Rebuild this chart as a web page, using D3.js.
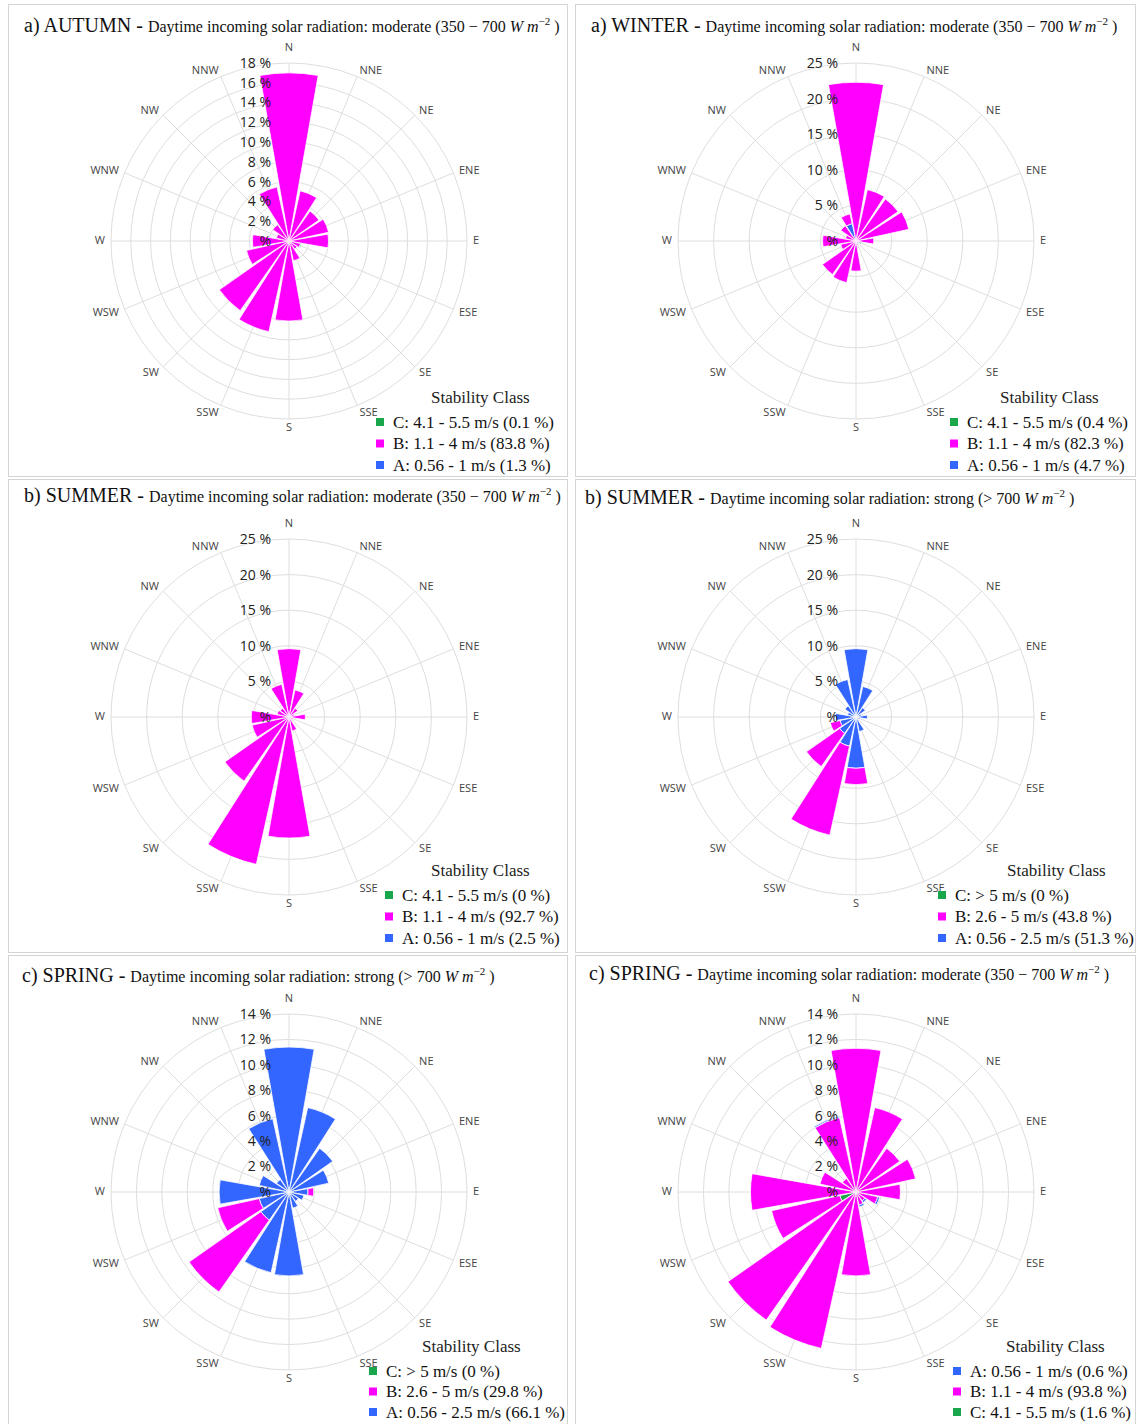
<!DOCTYPE html>
<html>
<head>
<meta charset="utf-8">
<script src="https://cdn.jsdelivr.net/npm/d3@7"></script>
<style>
  body { margin: 0; background: #fff; }
</style>
</head>
<body>
<script>
const width = 1137;
const height = 1424;

// 16方位
const directions = ["N", "NNE", "NE", "ENE", "E", "ESE", "SE", "SSE",
                    "S", "SSW", "SW", "WSW", "W", "WNW", "NW", "NNW"];

// a) AUTUMN - moderate
const autumnA = [0.3, 0.1, 0.1, 0.1, 0.1, 0, 0, 0.05, 0.1, 0.1, 0.1, 0.05, 0.05, 0.05, 0.05, 0.1];
const autumnB = [16.7, 5.1, 3.6, 4.0, 3.9, 1.2, 1.0, 2.0, 8.0, 9.3, 8.5, 4.35, 3.65, 1.25, 1.95, 5.5];
const autumnC = [0, 0, 0, 0, 0, 0.1, 0, 0, 0, 0, 0, 0, 0, 0, 0, 0];
const autumnTicks = [0, 2, 4, 6, 8, 10, 12, 14, 16, 18];

// a) WINTER - moderate
const winterA = [0.3, 0.1, 0.1, 0.1, 0, 0, 0, 0, 0.1, 0.1, 0.1, 0.1, 0.2, 0.2, 0.4, 2.5];
const winterB = [22.0, 7.3, 7.1, 7.5, 2.5, 0.6, 0.3, 0.6, 4.15, 5.9, 5.65, 2.1, 4.5, 1.3, 2.2, 1.4];
const winterC = [0, 0, 0, 0, 0, 0.2, 0.2, 0, 0, 0, 0, 0, 0, 0, 0, 0];
const winterTicks = [0, 5, 10, 15, 20, 25];

// b) SUMMER - moderate
const summerModA = [0.2, 0.15, 0.1, 0.1, 0.15, 0.1, 0.1, 0.15, 0.2, 0.25, 0.2, 0.2, 0.2, 0.15, 0.1, 0.15];
const summerModB = [9.4, 3.75, 1.4, 0.7, 2.15, 0.5, 0.4, 1.85, 16.8, 20.95, 10.8, 5.1, 5.1, 1.55, 1.4, 4.55];
const summerModC = [0, 0, 0, 0, 0, 0, 0, 0, 0, 0, 0, 0, 0, 0, 0, 0];
const summerModTicks = [0, 5, 10, 15, 20, 25];

// b) SUMMER - strong
const summerStrA = [9.6, 4.4, 1.6, 0.8, 1.6, 0.6, 0.5, 2.1, 7.2, 4.2, 2.8, 2.3, 2.9, 1.2, 1.9, 5.4];
const summerStrB = [0, 0, 0, 0, 0, 0, 0, 0, 2.3, 12.8, 5.7, 1.4, 0, 0, 0, 0];
const summerStrC = [0, 0, 0, 0, 0, 0, 0, 0, 0, 0, 0, 0, 0, 0, 0, 0];
const summerStrTicks = [0, 5, 10, 15, 20, 25];

// c) SPRING - strong
const springStrA = [11.4, 6.8, 4.2, 3.2, 1.5, 1.2, 0.9, 1.3, 6.6, 6.5, 2.7, 2.4, 5.5, 2.4, 1.2, 5.9];
const springStrB = [0, 0, 0, 0, 0.45, 0, 0, 0, 0, 0, 6.9, 3.35, 0, 0, 0, 0];
const springStrC = [0, 0, 0, 0, 0, 0, 0, 0, 0, 0, 0, 0, 0, 0, 0, 0];
const springStrTicks = [0, 2, 4, 6, 8, 10, 12, 14];

// c) SPRING - moderate (C が内側)
const springModC = [0, 0, 0, 0, 0, 0, 0, 0, 0, 0, 0.15, 1.3, 0.15, 0, 0, 0];
const springModB = [11.3, 6.8, 4.2, 4.8, 3.5, 1.75, 0.85, 1.05, 6.6, 12.6, 12.15, 5.5, 8.15, 2.9, 1.3, 6.0];
const springModA = [0, 0, 0, 0, 0, 0.15, 0.15, 0.15, 0, 0, 0, 0, 0, 0, 0, 0.1];
const springModTicks = [0, 2, 4, 6, 8, 10, 12, 14];

// 凡例
const legendModerate = ["C: 4.1 - 5.5 m/s", "B: 1.1 - 4 m/s", "A: 0.56 - 1 m/s"];
const legendStrong = ["C: > 5 m/s", "B: 2.6 - 5 m/s", "A: 0.56 - 2.5 m/s"];

const colors = { A: "#3366ff", B: "#ff00ff", C: "#1aa64a" };
const R = 178;

// パネル設定 (stack: 内側から外側へ, legend: 上から下へ)
const panels = [
  { cx: 289, cy: 241, box: [8, 4, 567, 476], season: "a) AUTUMN", sub: "moderate",
    ticks: autumnTicks,
    stack: [["A", autumnA], ["B", autumnB], ["C", autumnC]],
    legend: [["C", legendModerate[0] + " (0.1 %)"], ["B", legendModerate[1] + " (83.8 %)"], ["A", legendModerate[2] + " (1.3 %)"]],
    tx: 24, ty: 32, lx: 376, ly: 398, ltx: 55, step: 21.5 },
  { cx: 856, cy: 241, box: [575, 4, 1135, 476], season: "a) WINTER", sub: "moderate",
    ticks: winterTicks,
    stack: [["A", winterA], ["B", winterB], ["C", winterC]],
    legend: [["C", legendModerate[0] + " (0.4 %)"], ["B", legendModerate[1] + " (82.3 %)"], ["A", legendModerate[2] + " (4.7 %)"]],
    tx: 591, ty: 32, lx: 950, ly: 398, ltx: 50, step: 21.5 },
  { cx: 289, cy: 717, box: [8, 479, 567, 952], season: "b) SUMMER", sub: "moderate",
    ticks: summerModTicks,
    stack: [["A", summerModA], ["B", summerModB], ["C", summerModC]],
    legend: [["C", legendModerate[0] + " (0 %)"], ["B", legendModerate[1] + " (92.7 %)"], ["A", legendModerate[2] + " (2.5 %)"]],
    tx: 24, ty: 502, lx: 385, ly: 871, ltx: 46, step: 21.5 },
  { cx: 856, cy: 717, box: [575, 479, 1135, 952], season: "b) SUMMER", sub: "strong",
    ticks: summerStrTicks,
    stack: [["A", summerStrA], ["B", summerStrB], ["C", summerStrC]],
    legend: [["C", legendStrong[0] + " (0 %)"], ["B", legendStrong[1] + " (43.8 %)"], ["A", legendStrong[2] + " (51.3 %)"]],
    tx: 585, ty: 504, lx: 938, ly: 871, ltx: 69, step: 21.5 },
  { cx: 289, cy: 1192, box: [8, 955, 567, 1430], season: "c) SPRING", sub: "strong",
    ticks: springStrTicks,
    stack: [["A", springStrA], ["B", springStrB], ["C", springStrC]],
    legend: [["C", legendStrong[0] + " (0 %)"], ["B", legendStrong[1] + " (29.8 %)"], ["A", legendStrong[2] + " (66.1 %)"]],
    tx: 22, ty: 982, lx: 369, ly: 1347, ltx: 53, step: 20.5 },
  { cx: 856, cy: 1192, box: [575, 955, 1135, 1430], season: "c) SPRING", sub: "moderate",
    ticks: springModTicks,
    stack: [["C", springModC], ["B", springModB], ["A", springModA]],
    legend: [["A", legendModerate[2] + " (0.6 %)"], ["B", legendModerate[1] + " (93.8 %)"], ["C", legendModerate[0] + " (1.6 %)"]],
    tx: 589, ty: 980, lx: 953, ly: 1347, ltx: 53, step: 20.5 }
];

const svg = d3.select("body")
    .append("svg")
    .attr("width", width)
    .attr("height", height);

const toRad = d => d * Math.PI / 180;
const arc = d3.arc();

// 方位ラベルの位置 (左右は端揃え)
function dirPos(i) {
  const a = toRad(i * 22.5);
  const s = Math.sin(a), c = Math.cos(a);
  if (Math.abs(s) < 0.1) return { x: 0, y: -c * 190 - 4, anchor: "middle" };
  if (Math.abs(c) < 0.1) return { x: s * 184, y: -1, anchor: s > 0 ? "start" : "end" };
  return { x: s * 184, y: -c * 185, anchor: s > 0 ? "start" : "end" };
}

panels.forEach(p => {
  // 枠
  svg.append("rect")
      .attr("x", p.box[0] + 0.5).attr("y", p.box[1] + 0.5)
      .attr("width", p.box[2] - p.box[0]).attr("height", p.box[3] - p.box[1])
      .attr("fill", "none").attr("stroke", "#d4d4d4");

  // タイトル
  const t = svg.append("text")
      .attr("x", p.tx).attr("y", p.ty)
      .attr("font-family", "Liberation Serif, Times New Roman, serif")
      .attr("fill", "#111");
  t.append("tspan").attr("font-size", 20).text(p.season + " - ");
  if (p.sub === "moderate") {
    t.append("tspan").attr("font-size", 16).text("Daytime incoming solar radiation: moderate (350 \u2212 700 ");
  } else {
    t.append("tspan").attr("font-size", 16).text("Daytime incoming solar radiation: strong (> 700 ");
  }
  t.append("tspan").attr("font-size", 16).attr("font-style", "italic").text("W m");
  t.append("tspan").attr("font-size", 11).attr("dy", -7).text("\u22122");
  t.append("tspan").attr("font-size", 16).attr("dy", 7).text(" )");

  const g = svg.append("g").attr("transform", `translate(${p.cx},${p.cy})`);
  const maxV = p.ticks[p.ticks.length - 1];
  const r = d3.scaleLinear().domain([0, maxV]).range([0, R]);

  // 同心円
  g.selectAll("circle.ring")
      .data(p.ticks.slice(1))
      .enter().append("circle")
      .attr("r", d => r(d))
      .attr("fill", "none")
      .attr("stroke", "#dedede")
      .attr("stroke-width", 1);

  // 放射線
  g.selectAll("line.spoke")
      .data(directions)
      .enter().append("line")
      .attr("x1", 0).attr("y1", 0)
      .attr("x2", (d, i) => R * Math.sin(toRad(i * 22.5)))
      .attr("y2", (d, i) => -R * Math.cos(toRad(i * 22.5)))
      .attr("stroke", "#dedede")
      .attr("stroke-width", 1);

  // 積み上げ棒
  const cum = directions.map(() => 0);
  p.stack.forEach(([key, vals]) => {
    vals.forEach((v, i) => {
      const r0 = r(cum[i]);
      cum[i] += v;
      if (v <= 0) return;
      g.append("path")
          .attr("d", arc({
            innerRadius: r0,
            outerRadius: r(cum[i]),
            startAngle: toRad(i * 22.5 - 10),
            endAngle: toRad(i * 22.5 + 10)
          }))
          .attr("fill", colors[key])
          .attr("stroke", "#fff")
          .attr("stroke-width", 0.8);
    });
  });

  // 目盛ラベル
  g.selectAll("text.tick")
      .data(p.ticks)
      .enter().append("text")
      .attr("x", -18)
      .attr("y", d => -r(d))
      .attr("dy", "0.35em")
      .attr("text-anchor", "end")
      .attr("font-family", "Open Sans, Liberation Sans, sans-serif")
      .attr("font-size", 14)
      .attr("fill", "#222")
      .text(d => d === 0 ? "%" : d + " %");

  // 方位ラベル
  g.selectAll("text.dir")
      .data(directions)
      .enter().append("text")
      .attr("x", (d, i) => dirPos(i).x)
      .attr("y", (d, i) => dirPos(i).y)
      .attr("dy", "0.35em")
      .attr("text-anchor", (d, i) => dirPos(i).anchor)
      .attr("font-family", "Open Sans, Liberation Sans, sans-serif")
      .attr("font-size", 11)
      .attr("fill", "#444")
      .text(d => d);

  // 凡例
  const lg = svg.append("g").attr("transform", `translate(${p.lx},${p.ly})`);
  lg.append("text")
      .attr("x", p.ltx).attr("y", 5)
      .attr("font-family", "Liberation Serif, Times New Roman, serif")
      .attr("font-size", 17)
      .attr("fill", "#222")
      .text("Stability Class");
  p.legend.forEach(([key, label], k) => {
    const y = 24 + k * p.step;
    lg.append("rect")
        .attr("x", 0).attr("y", y - 4)
        .attr("width", 8).attr("height", 8)
        .attr("fill", colors[key]);
    lg.append("text")
        .attr("x", 17).attr("y", y)
        .attr("dy", "0.35em")
        .attr("font-family", "Liberation Serif, Times New Roman, serif")
        .attr("font-size", 17)
        .attr("fill", "#111")
        .text(label);
  });
});
</script>
</body>
</html>
